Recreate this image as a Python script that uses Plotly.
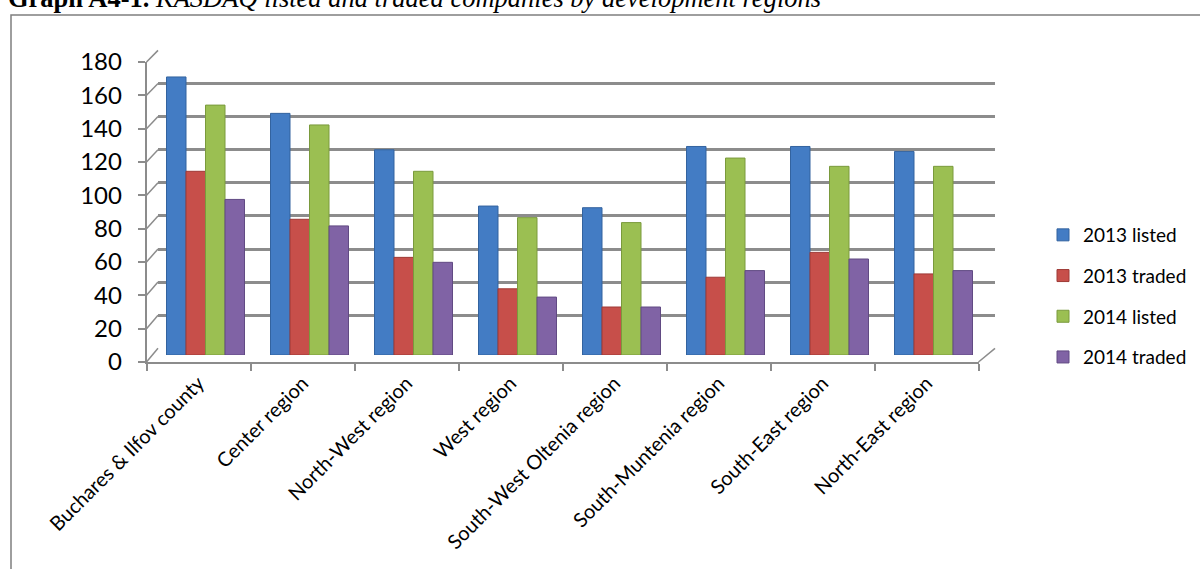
import plotly.graph_objects as go

# ---- data ----
regions = ["Buchares & Ilfov county", "Center region", "North-West region", "West region",
           "South-West Oltenia region", "South-Muntenia region", "South-East region",
           "North-East region"]
listed_2013 = [168, 146, 124, 90, 89, 126, 126, 123]
traded_2013 = [111, 82, 59, 40, 29, 47, 62, 49]
listed_2014 = [151, 139, 111, 83, 80, 119, 114, 114]
traded_2014 = [94, 78, 56, 35, 29, 51, 58, 51]
series_names = ["2013 listed", "2013 traded", "2014 listed", "2014 traded"]
y_ticks = list(range(0, 181, 20))

W, H = 1200, 569
colors = ["#437cc4", "#c74f4a", "#9bbf52", "#8063a5"]
edge = ["#33639f", "#9e3a36", "#7a9a3c", "#614a83"]


def px_x(p):
    return p / W


def px_y(p):
    return 1 - p / H


fig = go.Figure()

# empty traces so the back wall and front axes get drawn
fig.add_trace(go.Scatter(x=[], y=[], xaxis="x", yaxis="y", showlegend=False,
                         hoverinfo="skip"))

series = [listed_2013, traded_2013, listed_2014, traded_2014]
for name, vals, c, e in zip(series_names, series, colors, edge):
    fig.add_trace(go.Bar(
        x=regions, y=vals, name=name, xaxis="x2", yaxis="y2",
        marker=dict(color=c, line=dict(color=e, width=1)),
        legendgroup=name,
    ))

fig.add_trace(go.Scatter(x=[], y=[], xaxis="x3", yaxis="y3", showlegend=False,
                         hoverinfo="skip"))

axis_font = dict(family="Lato, Calibri, sans-serif", color="#000000")

fig.update_layout(
    width=W, height=H,
    margin=dict(l=0, r=0, t=0, b=0, autoexpand=False),
    paper_bgcolor="white",
    plot_bgcolor="rgba(0,0,0,0)",
    barmode="group",
    bargap=0.25,
    bargroupgap=0,
    showlegend=True,
    legend=dict(
        x=px_x(1043), y=px_y(216), xanchor="left", yanchor="top",
        font=dict(family="Lato, Calibri, sans-serif", size=19, color="#000000"),
        tracegroupgap=13, itemwidth=30, bgcolor="rgba(0,0,0,0)",
    ),
    # back wall with the horizontal gridlines
    xaxis=dict(domain=[px_x(158), px_x(995)], range=[0, 1], automargin=False,
               showgrid=False, zeroline=False, showticklabels=False, ticks="",
               showline=False, anchor="y", fixedrange=True),
    yaxis=dict(domain=[px_y(348.3), px_y(50.4)], range=[0, 180], tickvals=y_ticks,
               automargin=False,
               showgrid=True, gridcolor="#8c8c8c", gridwidth=2.5, zeroline=False,
               showticklabels=False, ticks="", showline=False, anchor="x",
               fixedrange=True),
    # bars
    xaxis2=dict(domain=[px_x(153.5), px_x(985.5)], type="category", range=[-0.5, 7.5],
                automargin=False, visible=False, anchor="y2", fixedrange=True),
    yaxis2=dict(domain=[px_y(355), px_y(57.1)], range=[0, 180], visible=False,
                automargin=False, anchor="x2", fixedrange=True),
    # front axes with tick labels
    xaxis3=dict(domain=[px_x(146.5), px_x(978.5)], range=[-0.5, 7.5],
                automargin=False,
                tickvals=list(range(len(regions))), ticktext=regions,
                tickangle=-45, ticks="", showgrid=False, zeroline=False,
                showline=True, linecolor="#8c8c8c", linewidth=1.5,
                tickfont=dict(size=20, **axis_font), anchor="y3",
                minor=dict(tick0=-0.5, dtick=1, ticks="outside", ticklen=7,
                           tickcolor="#8c8c8c", tickwidth=1.5, showgrid=False),
                fixedrange=True),
    yaxis3=dict(domain=[px_y(362), px_y(62)], range=[0, 180], tickvals=y_ticks,
                automargin=False,
                showgrid=False, zeroline=False, showline=True, linecolor="#8c8c8c",
                linewidth=1.5, ticks="outside", ticklen=7, tickcolor="#8c8c8c",
                tickwidth=1.5, ticklabelstandoff=11,
                tickfont=dict(size=24, **axis_font), anchor="x3", fixedrange=True),
)

shapes = []
# side wall: connect each front tick to its back-wall gridline
for v in y_ticks:
    shapes.append(dict(type="line", xref="paper", yref="paper",
                       x0=px_x(146.5), y0=px_y(362 - v * 300 / 180),
                       x1=px_x(158), y1=px_y(348.3 - v * 297.9 / 180),
                       line=dict(color="#8c8c8c", width=1.5)))
# floor edge on the right
shapes.append(dict(type="line", xref="paper", yref="paper",
                   x0=px_x(978.5), y0=px_y(362), x1=px_x(995), y1=px_y(348.3),
                   line=dict(color="#8c8c8c", width=1.5)))
# frame around the chart
shapes.append(dict(type="rect", xref="paper", yref="paper",
                   x0=px_x(11), y0=-0.1, x1=1.1, y1=px_y(15),
                   line=dict(color="#7f7f7f", width=1.5), fillcolor="rgba(0,0,0,0)"))
fig.update_layout(shapes=shapes)

fig.add_annotation(
    xref="paper", yref="paper", x=px_x(6), y=px_y(15), xanchor="left", yanchor="bottom",
    text="<b>Graph A4-1.</b> <i>KASDAQ listed and traded companies by development regions</i>",
    showarrow=False, font=dict(family="Liberation Serif, Times New Roman, serif",
                               size=26.5, color="#000000"),
)

fig.write_html("out.html")
